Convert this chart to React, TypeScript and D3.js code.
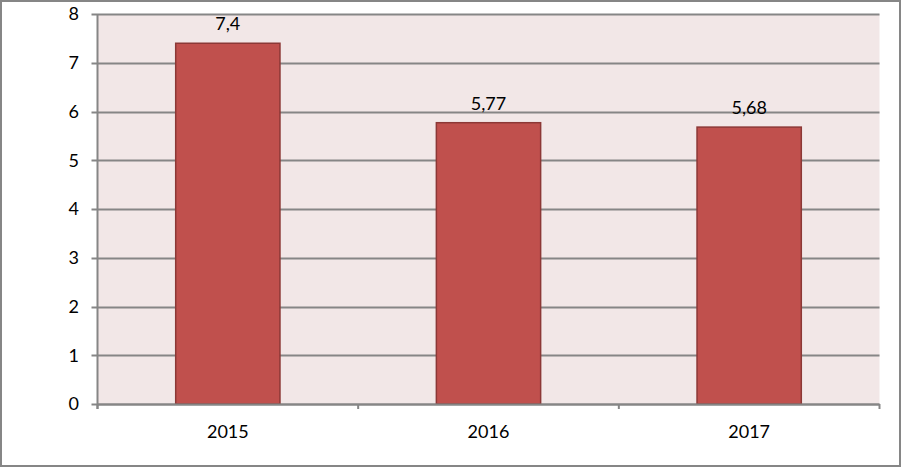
import React from "react";
import * as d3 from "d3";

const categories = ["2015", "2016", "2017"];
const values = [7.4, 5.77, 5.68];
const valueLabels = ["7,4", "5,77", "5,68"];
const yTicks = [0, 1, 2, 3, 4, 5, 6, 7, 8];

export default function App() {
  const W = 902, H = 468;
  const left = 97.5, right = 879.5, top = 14, bottom = 404;
  const x = d3.scaleBand<string>().domain(categories).range([left, right]).paddingInner(0.6).paddingOuter(0.3);
  const xb = d3.scaleBand<string>().domain(categories).range([left, right]);
  const y = d3.scaleLinear().domain([0, 8]).range([bottom, top]);
  const font = "Lato, 'Open Sans', sans-serif";
  return (
    <svg width={W} height={H} style={{ position: "absolute", left: 0, top: 0 }} fontFamily={font}>
      <rect x={0} y={0} width={W} height={H} fill="#fff" />
      <rect x={1} y={1} width={899} height={465} fill="none" stroke="#868686" strokeWidth={2} />
      <rect x={left} y={top} width={right - left} height={bottom - top} fill="#f2e7e7" />
      {yTicks.map((t) => (
        <g key={t}>
          <line x1={left - 6} x2={right} y1={Math.round(y(t)) + 0.5} y2={Math.round(y(t)) + 0.5} stroke="#868686" strokeWidth={2} />
          <text x={79} y={y(t)} dy="0.35em" textAnchor="end" fontSize={18} fill="#000">{t}</text>
        </g>
      ))}
      <line x1={left} x2={left} y1={top} y2={bottom + 5} stroke="#868686" strokeWidth={2} />
      {[...categories.map((c) => xb(c)!), right].map((px, i) => (
        <line key={i} x1={px} x2={px} y1={bottom} y2={bottom + 5} stroke="#868686" strokeWidth={2} />
      ))}
      {categories.map((c, i) => (
        <g key={c}>
          <rect x={x(c)!} y={y(values[i])} width={x.bandwidth()} height={y(0) - y(values[i])} fill="#c0504d" stroke="#8c3836" strokeWidth={1.5} />
          <text x={x(c)! + x.bandwidth() / 2} y={y(values[i]) - 13} textAnchor="middle" fontSize={18} fill="#000">{valueLabels[i]}</text>
          <text x={xb(c)! + xb.bandwidth() / 2} y={438} textAnchor="middle" fontSize={18} fill="#000">{c}</text>
        </g>
      ))}
      <line x1={left} x2={right} y1={bottom + 0.5} y2={bottom + 0.5} stroke="#868686" strokeWidth={2} />
    </svg>
  );
}
